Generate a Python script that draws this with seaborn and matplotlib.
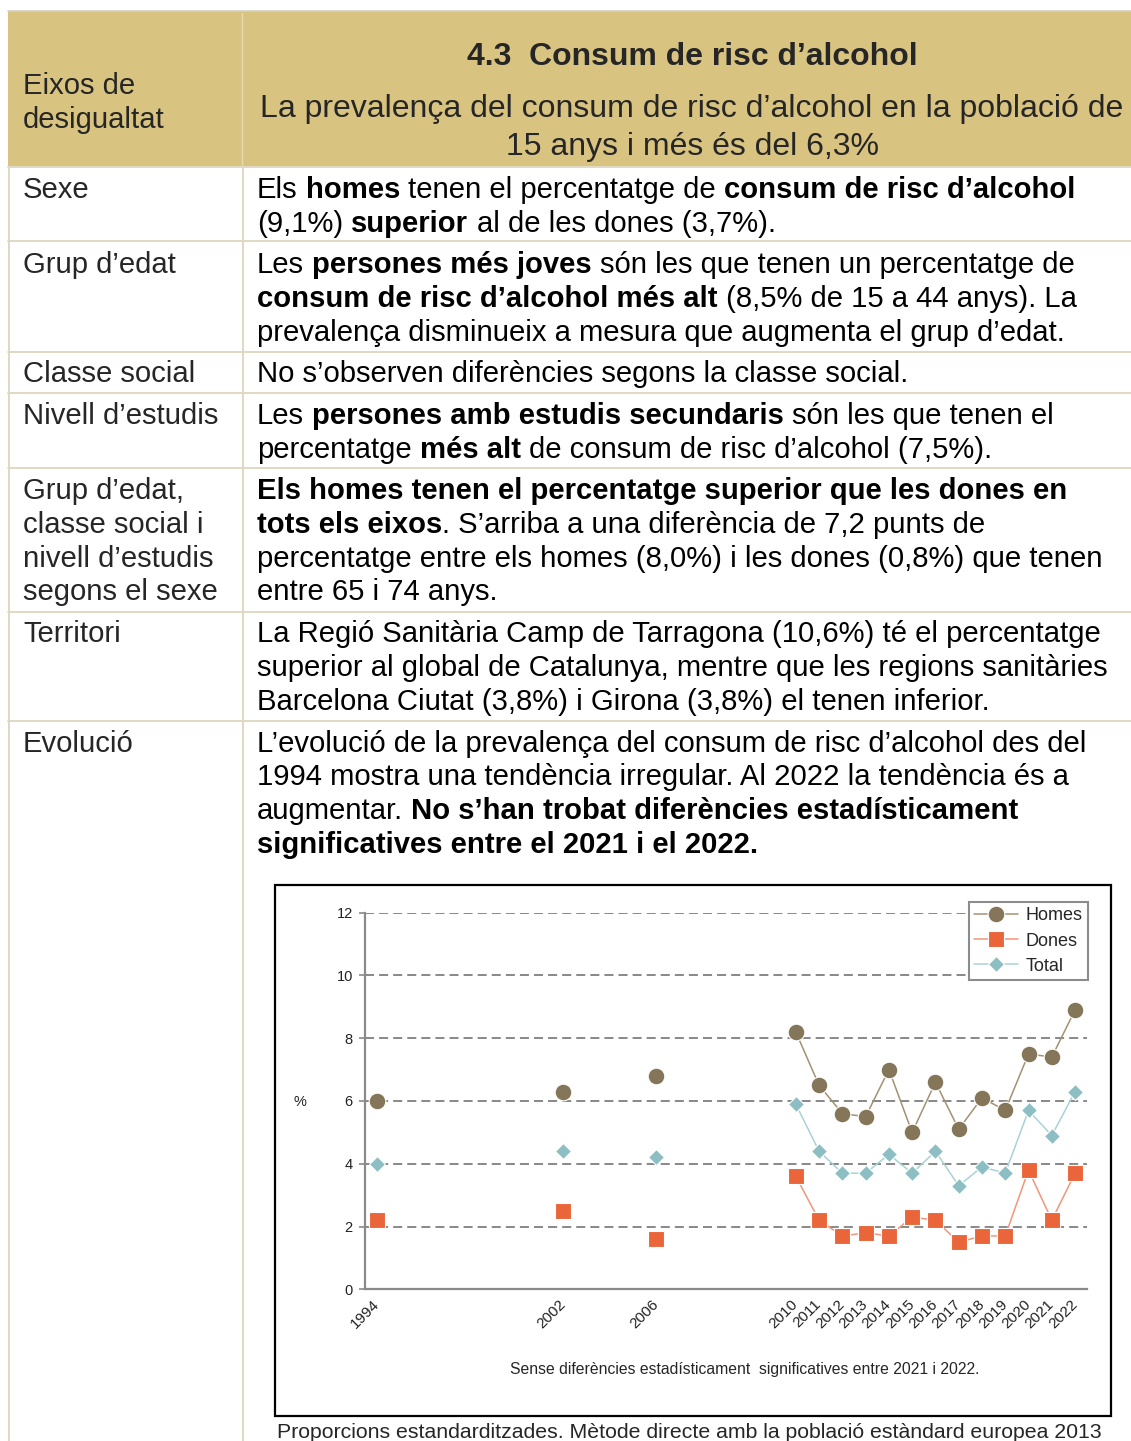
import numpy as np
import pandas as pd
import matplotlib
matplotlib.use("Agg")
import matplotlib.pyplot as plt
from matplotlib import font_manager as fm
from matplotlib.patches import Rectangle
import seaborn as sns

# ---------------- data ----------------
x_labels = ["1994", "", "", "", "", "", "", "", "2002", "", "", "", "2006",
            "", "", "", "", "", "2010", "2011", "2012", "2013", "2014", "2015",
            "2016", "2017", "2018", "2019", "2020", "2021", "2022"]
years = [1994, 2002, 2006, 2010, 2011, 2012, 2013, 2014, 2015, 2016, 2017,
         2018, 2019, 2020, 2021, 2022]
homes = [6.0, 6.3, 6.8, 8.2, 6.5, 5.6, 5.5, 7.0, 5.0, 6.6, 5.1, 6.1, 5.7, 7.5, 7.4, 8.9]
dones = [2.2, 2.5, 1.6, 3.6, 2.2, 1.7, 1.8, 1.7, 2.3, 2.2, 1.5, 1.7, 1.7, 3.8, 2.2, 3.7]
total = [4.0, 4.4, 4.2, 5.9, 4.4, 3.7, 3.7, 4.3, 3.7, 4.4, 3.3, 3.9, 3.7, 5.7, 4.9, 6.3]
series_names = ["Homes", "Dones", "Total"]
connected_from = 2010
y_ticks = [0, 2, 4, 6, 8, 10, 12]

# ---------------- style ----------------
sns.set_theme(style="white")
FONT = ["Liberation Sans", "DejaVu Sans"]
plt.rcParams["font.family"] = FONT
_names = {f.name for f in fm.fontManager.ttflist}
NARROW = ["Liberation Sans Narrow", "Liberation Sans", "DejaVu Sans"] \
    if "Liberation Sans Narrow" in _names else FONT

W, H = 1131, 1441
fig = plt.figure(figsize=(W / 100, H / 100), dpi=100)
ax0 = fig.add_axes([0, 0, 1, 1])
ax0.set_xlim(0, W)
ax0.set_ylim(H, 0)
ax0.axis("off")
renderer = fig.canvas.get_renderer()

TAN = "#D8C380"
SEP = "#DDD7BE"
BODY = 21.1
HEAD = 23.0

# header band
ax0.add_patch(Rectangle((8, 11), W - 8, 155, facecolor=TAN, edgecolor="none", zorder=0))
ax0.plot([8, W], [10.5, 10.5], color="#D4D0C4", lw=1.2, zorder=1)
ax0.plot([242, 242], [13, 166], color="#E6DAB0", lw=1.0, zorder=1)

# row separators
for yy in [167, 241, 352, 393, 468, 612, 721]:
    ax0.plot([8, W], [yy, yy], color=SEP, lw=1.3, zorder=1)
# vertical column lines
ax0.plot([8.5, 8.5], [168, H], color=SEP, lw=1.3, zorder=1)
ax0.plot([242.5, 242.5], [168, H], color=SEP, lw=1.3, zorder=1)


def draw_runs(x, y, runs, size=BODY):
    sw = 0.2778 * size * 100 / 72
    for s, bold in runs:
        lead = len(s) - len(s.lstrip(" "))
        trail = len(s) - len(s.rstrip(" "))
        core = s.strip(" ")
        x += lead * sw
        t = ax0.text(x, y, core, fontsize=size, fontweight="bold" if bold else "normal",
                     va="baseline", ha="left", color="black", zorder=3)
        x += t.get_window_extent(renderer).width
        x += trail * sw


# header text
ax0.text(23, 94, "Eixos de", fontsize=BODY, va="baseline", ha="left", zorder=3)
ax0.text(23, 128, "desigualtat", fontsize=BODY, va="baseline", ha="left", zorder=3)
ax0.text(692, 65, "4.3  Consum de risc d\u2019alcohol", fontsize=HEAD, fontweight="bold",
         va="baseline", ha="center", zorder=3)
ax0.text(692, 117, "La prevalença del consum de risc d\u2019alcohol en la població de",
         fontsize=HEAD, va="baseline", ha="center", zorder=3)
ax0.text(692, 155, "15 anys i més és del 6,3%", fontsize=HEAD, va="baseline",
         ha="center", zorder=3)

N, B = False, True
rows = [
    (["Sexe"], [198, 232], [
        [("Els ", N), ("homes", B), (" tenen el percentatge de ", N), ("consum de risc d\u2019alcohol", B)],
        [("(9,1%) ", N), ("superior", B), (" al de les dones (3,7%).", N)],
    ]),
    (["Grup d\u2019edat"], [273, 307, 341], [
        [("Les ", N), ("persones més joves", B), (" són les que tenen un percentatge de", N)],
        [("consum de risc d\u2019alcohol més alt", B), (" (8,5% de 15 a 44 anys). La", N)],
        [("prevalença disminueix a mesura que augmenta el grup d\u2019edat.", N)],
    ]),
    (["Classe social"], [382], [
        [("No s\u2019observen diferències segons la classe social.", N)],
    ]),
    (["Nivell d\u2019estudis"], [424, 458], [
        [("Les ", N), ("persones amb estudis secundaris", B), (" són les que tenen el", N)],
        [("percentatge ", N), ("més alt", B), (" de consum de risc d\u2019alcohol (7,5%).", N)],
    ]),
    (["Grup d\u2019edat,", "classe social i", "nivell d\u2019estudis", "segons el sexe"],
     [499, 533, 567, 600], [
        [("Els homes tenen el percentatge superior que les dones en", B)],
        [("tots els eixos", B), (". S\u2019arriba a una diferència de 7,2 punts de", N)],
        [("percentatge entre els homes (8,0%) i les dones (0,8%) que tenen", N)],
        [("entre 65 i 74 anys.", N)],
    ]),
    (["Territori"], [642, 676, 710], [
        [("La Regió Sanitària Camp de Tarragona (10,6%) té el percentatge", N)],
        [("superior al global de Catalunya, mentre que les regions sanitàries", N)],
        [("Barcelona Ciutat (3,8%) i Girona (3,8%) el tenen inferior.", N)],
    ]),
    (["Evolució"], [752, 785, 819, 853], [
        [("L\u2019evolució de la prevalença del consum de risc d\u2019alcohol des del", N)],
        [("1994 mostra una tendència irregular. Al 2022 la tendència és a", N)],
        [("augmentar. ", N), ("No s\u2019han trobat diferències estadísticament", B)],
        [("significatives entre el 2021 i el 2022.", B)],
    ]),
]
for left_lines, baselines, right_lines in rows:
    for i, s in enumerate(left_lines):
        ax0.text(23, baselines[i], s, fontsize=BODY, va="baseline", ha="left", zorder=3)
    for i, runs in enumerate(right_lines):
        draw_runs(257, baselines[i], runs)

# chart frame
ax0.add_patch(Rectangle((275, 885), 1111 - 275, 1416 - 885, facecolor="white",
                        edgecolor="black", lw=1.6, zorder=2))

# footnote (fit to width)
foot = ax0.text(277, 1438, "Proporcions estandarditzades. Mètode directe amb la població estàndard europea 2013",
                fontsize=15, va="baseline", ha="left", zorder=3, family=NARROW)
fw = foot.get_window_extent(renderer).width
foot.set_fontsize(15 * 830 / fw)

# ---------------- chart ----------------
left = 365.3 / W
bottom = 1 - 1289.3 / H
ax = fig.add_axes([left, bottom, (1086.7 - 365.3) / W, (1289.3 - 912.7) / H])
ax.set_facecolor("none")
ax.set_zorder(5)

pos = [x_labels.index(str(y)) for y in years]
seg = [y if y < connected_from else connected_from for y in years]
styles = {
    "Homes": dict(values=homes, line="#A29274", face="#85765A", marker="o", ms=12),
    "Dones": dict(values=dones, line="#F3957A", face="#EA6539", marker="s", ms=11.5),
    "Total": dict(values=total, line="#A9D2D7", face="#8CBEC3", marker="D", ms=8.2),
}
handles = []
for name in series_names:
    st = styles[name]
    df = pd.DataFrame({"pos": pos, "val": st["values"], "seg": seg})
    sns.lineplot(data=df, x="pos", y="val", units="seg", estimator=None, sort=False,
                 ax=ax, color=st["line"], lw=1.1, marker=st["marker"],
                 markersize=st["ms"], markerfacecolor=st["face"],
                 markeredgecolor="white", markeredgewidth=0.8, zorder=4)
    handles.append(plt.Line2D([], [], color=st["line"], lw=1.1, marker=st["marker"],
                              markersize=st["ms"], markerfacecolor=st["face"],
                              markeredgecolor="white", markeredgewidth=0.8))

ax.set_xlim(-0.5, len(x_labels) - 0.5)
ax.set_ylim(0, 12)
ax.set_yticks(y_ticks)
ax.set_yticklabels([str(v) for v in y_ticks], fontsize=10.5, color="#222222")
ax.set_xticks(range(len(x_labels)))
ax.set_xticklabels(x_labels, rotation=45, ha="right", va="center",
                   rotation_mode="anchor", fontsize=11, color="#222222")
ax.set_xticks(np.arange(-0.5, len(x_labels), 1), minor=True)
ax.tick_params(axis="x", which="major", length=0, pad=9)
ax.tick_params(axis="x", which="minor", length=4.5, width=1.2, color="#8a8a8a", direction="out")
ax.tick_params(axis="y", which="major", length=4, width=1.2, color="#8a8a8a",
               direction="out", pad=5, left=True)
ax.set_xlabel("")
ax.set_ylabel("%", rotation=0, fontsize=10.5, color="#222222")
ax.yaxis.set_label_coords(-0.09, 0.48)
ax.yaxis.grid(True, linestyle=(0, (5, 2.8)), color="#7f7f7f", lw=1.3)
ax.xaxis.grid(False)
for s in ["top", "right"]:
    ax.spines[s].set_visible(False)
for s in ["left", "bottom"]:
    ax.spines[s].set_color("#8a8a8a")
    ax.spines[s].set_linewidth(1.6)
    ax.spines[s].set_zorder(3)

leg = ax.legend(handles, series_names, loc="upper left",
                bbox_to_anchor=(969 / W, 1 - 902 / H), bbox_transform=fig.transFigure,
                borderaxespad=0, fontsize=13, frameon=True, fancybox=False,
                handlelength=2.4, handletextpad=0.45, labelspacing=0.45,
                borderpad=0.3, framealpha=1)
leg.get_frame().set_edgecolor("#8c8c8c")
leg.get_frame().set_linewidth(1.5)

cap = ax0.text(745, 1374, "Sense diferències estadísticament  significatives entre 2021 i 2022.",
               fontsize=11, va="baseline", ha="center", zorder=6, family=NARROW)
cw = cap.get_window_extent(renderer).width
cap.set_fontsize(11 * 469 / cw)

fig.savefig("out.png", dpi=100)
